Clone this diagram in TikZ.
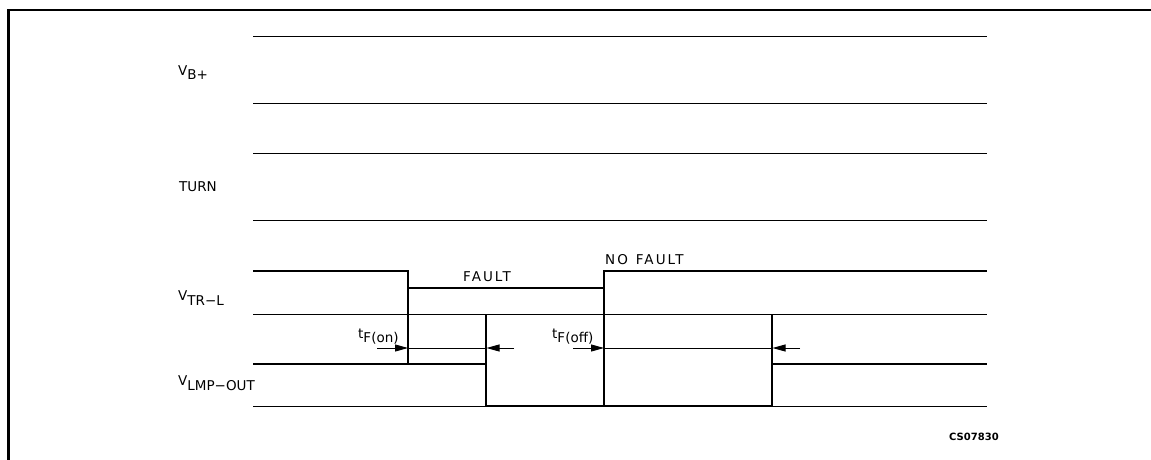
\documentclass[tikz,border=0pt]{standalone}
\usepackage{fontspec}
\setmainfont{DejaVu Sans}
\newfontfamily\widefont{DejaVu Sans}[LetterSpace=15]
\usetikzlibrary{arrows.meta}
\begin{document}
\begin{tikzpicture}[x=1pt,y=-1pt,
  rail/.style={line width=0.9pt},
  sig/.style={line width=1.1pt},
  dimline/.style={line width=0.9pt},
  tip/.style={-{Triangle[length=13pt,width=7pt]}},
  lbl/.style={anchor=base west, inner sep=0pt, font=\fontsize{13.5}{13.5}\selectfont},
  widelbl/.style={anchor=base west, inner sep=0pt, font=\fontsize{13.5}{13.5}\widefont},
  idlbl/.style={anchor=base west, inner sep=0pt, font=\fontsize{10}{10}\selectfont\bfseries}]
\useasboundingbox (0,0) rectangle (1151,460);
\draw[line width=2.5pt] (8.5,460) -- (8.5,10) -- (1151,10);
% reference rails
\foreach \y/\n in {36/a,103/b,153/c,220/d,314/e,406/f}{
  \coordinate (L\n) at (253,\y);
  \coordinate (R\n) at (987,\y);
  \draw[rail] (L\n) -- (R\n);
}
% V_TR-L waveform
\coordinate (t0) at (253,271);
\coordinate (t1) at (408,271);
\coordinate (t2) at (408,288);
\coordinate (t3) at (604,288);
\coordinate (t4) at (604,271);
\coordinate (t5) at (987,271);
\draw[sig] (t0) -- (t1) -- (t2) -- (t3) -- (t4) -- (t5);
% V_LMP-OUT waveform
\coordinate (m0) at (253,364);
\coordinate (m1) at (486,364);
\coordinate (m2) at (486,406);
\coordinate (m3) at (772,406);
\coordinate (m4) at (772,364);
\coordinate (m5) at (987,364);
\draw[sig] (m0) -- (m1) -- (m2) -- (m3) -- (m4) -- (m5);
\draw[line width=1.6pt] (m2) -- (m3);
% vertical markers
\coordinate (v1b) at (408,364);
\coordinate (v2t) at (486,314);
\coordinate (v3b) at (604,406);
\coordinate (v4t) at (772,314);
\draw[sig] (t2) -- (v1b);
\draw[sig] (v2t) -- (m1);
\draw[sig] (t3) -- (v3b);
\draw[sig] (v4t) -- (m4);
% dimension arrows
\coordinate (a0) at (377,348);
\coordinate (a1) at (408,348);
\coordinate (a2) at (486.5,348);
\coordinate (a3) at (514,348);
\coordinate (b0) at (573,348);
\coordinate (b1) at (604,348);
\coordinate (b2) at (772.5,348);
\coordinate (b3) at (800,348);
\draw[dimline,tip] (a0) -- (a1);
\draw[dimline] (a1) -- (a2);
\draw[dimline,tip] (a3) -- (a2);
\draw[dimline,tip] (b0) -- (b1);
\draw[dimline] (b1) -- (b2);
\draw[dimline,tip] (b3) -- (b2);
% labels
\node[lbl] (vb) at (178,75) {V\raisebox{-5pt}{B+}};
\node[lbl] (turn) at (179,191) {TURN};
\node[lbl] (vtrl) at (178,300) {V\raisebox{-5pt}{TR−L}};
\node[lbl] (vlmp) at (178,385) {V\raisebox{-5pt}{LMP−OUT}};
\node[widelbl] (fault) at (463,281) {FAULT};
\node[widelbl] (nofault) at (605,264) {NO\hspace{8pt}FAULT};
\node[lbl] (tfon) at (358,338) {t\raisebox{-4pt}{F(on)}};
\node[lbl] (tfoff) at (552,338) {t\raisebox{-4pt}{F(off)}};
\node[idlbl] (id) at (949,440) {CS07830};
\end{tikzpicture}
\end{document}
